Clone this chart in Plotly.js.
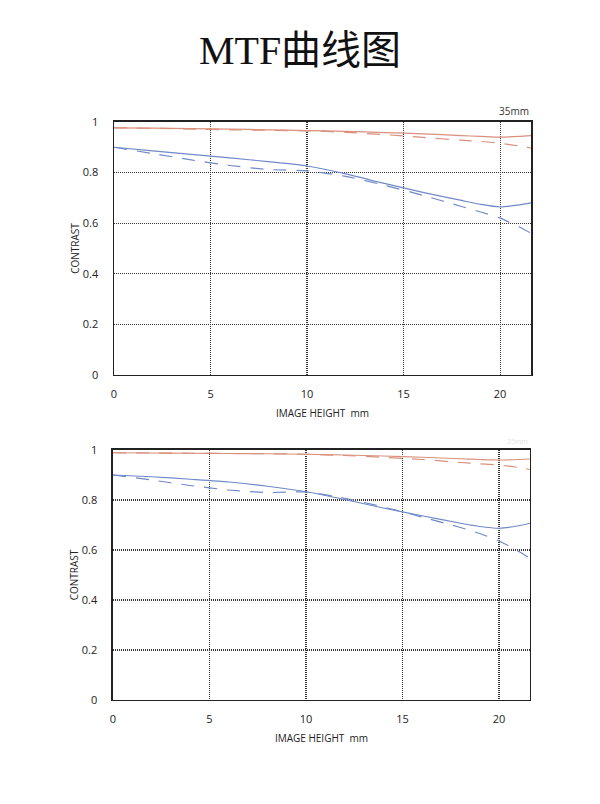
<!DOCTYPE html>
<html>
<head>
<meta charset="utf-8">
<script src="https://cdn.plot.ly/plotly-3.0.1.min.js"></script>
<style>
  html, body { margin: 0; padding: 0; background: #fff; }
  #chart { width: 600px; height: 804px; }
</style>
</head>
<body>
<div id="chart"></div>
<script>
// Image height (mm) sample positions, shared by both charts
const imageHeight = [0, 2, 4, 6, 8, 10, 12, 14, 16, 18, 19, 20, 21, 21.6];

// Upper chart
const topRedSolid   = [0.977, 0.976, 0.974, 0.972, 0.969, 0.966, 0.963, 0.958, 0.953, 0.946, 0.943, 0.940, 0.943, 0.946];
const topRedDash    = [0.977, 0.975, 0.972, 0.969, 0.967, 0.965, 0.959, 0.950, 0.939, 0.928, 0.923, 0.916, 0.905, 0.897];
const topBlueSolid  = [0.900, 0.886, 0.872, 0.858, 0.843, 0.826, 0.795, 0.757, 0.722, 0.690, 0.674, 0.664, 0.672, 0.680];
const topBlueDash   = [0.900, 0.875, 0.850, 0.828, 0.812, 0.807, 0.785, 0.750, 0.710, 0.666, 0.644, 0.620, 0.585, 0.560];

// Lower chart
const botRedSolid   = [0.989, 0.988, 0.987, 0.986, 0.985, 0.983, 0.980, 0.976, 0.971, 0.965, 0.962, 0.960, 0.962, 0.964];
const botRedDash    = [0.989, 0.988, 0.987, 0.986, 0.985, 0.983, 0.978, 0.971, 0.962, 0.950, 0.945, 0.940, 0.930, 0.922];
const botBlueSolid  = [0.900, 0.893, 0.883, 0.872, 0.855, 0.833, 0.802, 0.768, 0.737, 0.707, 0.694, 0.687, 0.697, 0.707];
const botBlueDash   = [0.900, 0.880, 0.858, 0.840, 0.830, 0.832, 0.807, 0.772, 0.732, 0.690, 0.666, 0.636, 0.595, 0.567];

const xTicks = [0, 5, 10, 15, 20];
const yTicks = [0, 0.2, 0.4, 0.6, 0.8, 1];

const red = '#d9907d';
const blue = '#7189c9';
const labelFont = { family: 'Open Sans, DejaVu Sans, sans-serif', size: 11, color: '#222' };

function line(y, color, dashed, xa, ya) {
    return {
        x: imageHeight,
        y: y,
        xaxis: xa,
        yaxis: ya,
        mode: 'lines',
        type: 'scatter',
        hoverinfo: 'skip',
        line: {
            color: color,
            width: 1.2,
            shape: 'spline',
            smoothing: 0.6,
            dash: dashed ? '13px,10px' : 'solid'
        }
    };
}

const traces = [
    line(topRedSolid, red, false, 'x', 'y'),
    line(topRedDash, red, true, 'x', 'y'),
    line(topBlueSolid, blue, false, 'x', 'y'),
    line(topBlueDash, blue, true, 'x', 'y'),
    line(botRedSolid, red, false, 'x2', 'y2'),
    line(botRedDash, red, true, 'x2', 'y2'),
    line(botBlueSolid, blue, false, 'x2', 'y2'),
    line(botBlueDash, blue, true, 'x2', 'y2')
];

function xAxis(domain, anchor) {
    return {
        domain: domain,
        anchor: anchor,
        range: [0, 21.6],
        tickvals: xTicks,
        ticks: '',
        ticklabelstandoff: 8,
        tickfont: labelFont,
        showgrid: true,
        gridcolor: '#333',
        griddash: '1px,1px',
        gridwidth: 1.2,
        zeroline: false,
        showline: true,
        linecolor: '#222',
        linewidth: 1.5,
        mirror: true,
        title: {
            text: 'IMAGE HEIGHT  mm',
            font: { family: 'Open Sans, DejaVu Sans, sans-serif', size: 10, color: '#222' },
            standoff: 10
        }
    };
}

function yAxis(domain, anchor) {
    return {
        domain: domain,
        anchor: anchor,
        range: [0, 1],
        tickvals: yTicks,
        ticks: '',
        ticklabelstandoff: 12,
        tickfont: labelFont,
        showgrid: true,
        gridcolor: '#333',
        griddash: '1px,1px',
        gridwidth: 1.2,
        zeroline: false,
        showline: true,
        linecolor: '#222',
        linewidth: 1.5,
        mirror: true,
        title: {
            text: 'CONTRAST',
            font: { family: 'Open Sans, DejaVu Sans, sans-serif', size: 10, color: '#222' },
            standoff: 1
        }
    };
}

const layout = {
    width: 600,
    height: 804,
    paper_bgcolor: '#ffffff',
    plot_bgcolor: '#ffffff',
    margin: { l: 0, r: 0, t: 0, b: 0 },
    showlegend: false,
    title: {
        text: 'MTF曲线图',
        x: 0.5,
        xanchor: 'center',
        y: 0.938,
        yanchor: 'middle',
        font: { family: 'Liberation Serif, Noto Sans CJK SC, serif', size: 40, color: '#111' }
    },
    xaxis: xAxis([0.19, 0.885], 'y'),
    yaxis: yAxis([0.5336, 0.8483], 'x'),
    xaxis2: xAxis([0.1883, 0.8833], 'y2'),
    yaxis2: yAxis([0.1294, 0.4403], 'x2'),
    annotations: [
        {
            text: '35mm', xref: 'x domain', yref: 'y domain', x: 1, y: 1,
            xanchor: 'right', yanchor: 'bottom', yshift: 2, showarrow: false,
            font: { family: 'Open Sans, DejaVu Sans, sans-serif', size: 10, color: '#333' }
        },
        {
            text: '35mm', xref: 'x2 domain', yref: 'y2 domain', x: 1, y: 1,
            xanchor: 'right', yanchor: 'bottom', yshift: 2, showarrow: false,
            font: { family: 'Open Sans, DejaVu Sans, sans-serif', size: 7, color: '#e4e4e4' }
        }
    ]
};

Plotly.newPlot('chart', traces, layout, { displayModeBar: false, staticPlot: true });
</script>
</body>
</html>
